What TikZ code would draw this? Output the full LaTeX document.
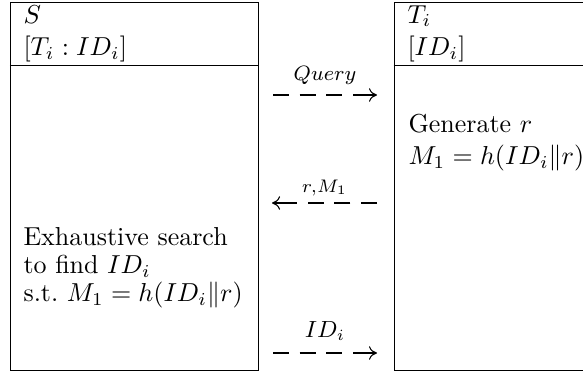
\documentclass[tikz,border=0pt]{standalone}
\usetikzlibrary{arrows.meta, positioning}

\begin{document}
\begin{tikzpicture}[
    x=0.385pt, y=-0.385pt,
    party/.style={draw, rectangle, minimum width=95.3pt, minimum height=141.5pt, inner sep=0pt},
    txt/.style={anchor=base west, align=left, inner sep=0pt},
    msg/.style={line width=0.4pt, dash pattern=on 6.16pt off 4.12pt on 6.16pt off 4.12pt on 6.16pt off 4.12pt on 11.5pt},
    tip/.style={-{To[length=3.1pt, width=5.2pt]}},
    lab/.style={anchor=base, inner sep=0pt}
]
\useasboundingbox (0,0) rectangle (583,372);

% the two parties
\node[party] (server) at (134.25,186.25) {};
\node[party, right=52pt of server] (tag) {};

\draw ([yshift=-24.45pt]server.north west) -- ([yshift=-24.45pt]server.north east);
\draw ([yshift=-24.45pt]tag.north west) -- ([yshift=-24.45pt]tag.north east);

\node[txt] (shead) at (23,56) {$S$\\[0.7pt]$[T_i : ID_i]$};
\node[txt] (thead) at (407,56) {$T_i$\\[0.7pt]$[ID_i]$};

\node[txt] (gen) at (408,164.3) {Generate $r$\\[0.2pt]$M_1 = h(ID_i \| r)$};
\node[txt] (search) at (23,301.7) {Exhaustive search\\[-1.2pt]to find $ID_i$\\[-1.2pt]s.t.\ $M_1 = h(ID_i \| r)$};

% messages
\coordinate (q1) at (273,95);
\coordinate (q2) at (377,95);
\coordinate (r1) at (377,203);
\coordinate (r2) at (272,203);
\coordinate (i1) at (273,353);
\coordinate (i2) at (377,353);

\draw[msg, tip] (q1) -- node[lab, yshift=5.4pt, font=\footnotesize] {$Query$} (q2);
\draw[msg, tip] (r1) -- node[lab, yshift=4.2pt] {$\scriptstyle r,M_1$} (r2);
\draw[msg, tip] (i1) -- node[lab, yshift=5.8pt, font=\small] {$ID_i$} (i2);

\end{tikzpicture}
\end{document}
